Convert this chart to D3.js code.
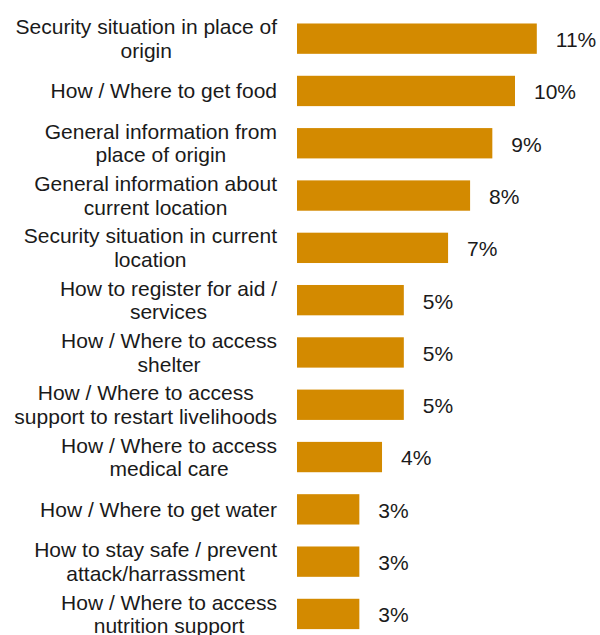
<!DOCTYPE html>
<html>
<head>
<meta charset="utf-8">
<script src="https://cdn.jsdelivr.net/npm/d3@7"></script>
<style>
  body { margin: 0; background: #fff; }
  text { font-family: "Liberation Sans", Arial, sans-serif; fill: #1a1a1a; }
</style>
</head>
<body>
<svg id="chart"></svg>
<script>
var svgWidth = 600;
var svgHeight = 635;

// categories (line breaks as in the original chart)
var categories = [
  "Security situation in place of\norigin",
  "How / Where to get food",
  "General information from\nplace of origin",
  "General information about\ncurrent location",
  "Security situation in current\nlocation",
  "How to register for aid /\nservices",
  "How / Where to access\nshelter",
  "How / Where to access\nsupport to restart livelihoods",
  "How / Where to access\nmedical care",
  "How / Where to get water",
  "How to stay safe / prevent\nattack/harrassment",
  "How / Where to access\nnutrition support"
];
var values = [11.0, 10.0, 8.96, 7.94, 6.93, 4.9, 4.9, 4.9, 3.9, 2.86, 2.86, 2.86];
var valueLabels = ["11%", "10%", "9%", "8%", "7%", "5%", "5%", "5%", "4%", "3%", "3%", "3%"];

var barColor = "#d38a00";
var barLeft = 297;
var labelRight = 277;
var fontSize = 21;
var lineHeight = 23.5;

var svg = d3.select('#chart').attr('width', svgWidth).attr('height', svgHeight);

var xScale = d3.scaleLinear()
  .domain([0, 11])
  .range([barLeft, barLeft + 239.8]);

var yScale = d3.scaleBand()
  .domain(categories)
  .range([12.5, 12.5 + 12 * 52.3])
  .paddingInner(0.42)
  .paddingOuter(0.21);

var rows = categories.map(function(c, i) {
  return { cat: c, value: values[i], label: valueLabels[i] };
});

svg.append('g').attr('class', 'bars')
  .selectAll('rect')
  .data(rows)
  .enter()
  .append('rect')
  .attr('x', xScale(0))
  .attr('y', function(d) { return yScale(d.cat); })
  .attr('width', function(d) { return xScale(d.value) - xScale(0); })
  .attr('height', yScale.bandwidth())
  .attr('fill', barColor);

svg.append('g').attr('class', 'values')
  .selectAll('text')
  .data(rows)
  .enter()
  .append('text')
  .attr('x', function(d) { return xScale(d.value) + 19; })
  .attr('y', function(d) { return yScale(d.cat) + yScale.bandwidth() / 2 + 1; })
  .attr('dy', '0.35em')
  .attr('font-size', fontSize)
  .text(function(d) { return d.label; });

// category labels: block right-aligned, lines centred inside the block
var labels = svg.append('g').attr('class', 'cats');
rows.forEach(function(d) {
  var lines = d.cat.split('\n');
  var t = labels.append('text')
    .attr('font-size', fontSize)
    .attr('text-anchor', 'middle');
  var cy = yScale(d.cat) + yScale.bandwidth() / 2;
  var firstY = cy - (lines.length - 1) * lineHeight / 2;
  lines.forEach(function(line, j) {
    t.append('tspan')
      .attr('y', firstY + j * lineHeight)
      .attr('dy', '0.35em')
      .text(line);
  });
  var maxW = 0;
  t.selectAll('tspan').each(function() {
    maxW = Math.max(maxW, this.getComputedTextLength());
  });
  t.selectAll('tspan').attr('x', labelRight - maxW / 2);
});
</script>
</body>
</html>
